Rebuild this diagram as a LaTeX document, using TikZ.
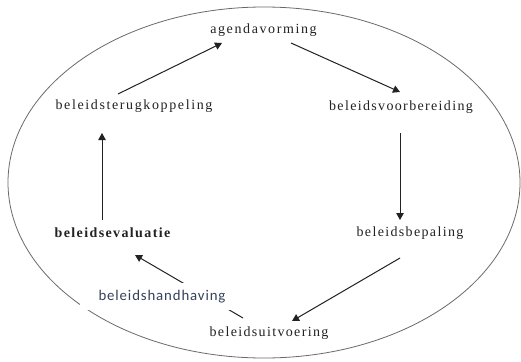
\documentclass[tikz,border=0pt]{standalone}
\usepackage{fontspec}
\setmainfont{Liberation Serif}
\newfontfamily\hvfont{Carlito}
\usetikzlibrary{arrows.meta}
\definecolor{txt}{HTML}{222222}
\definecolor{hvblue}{HTML}{34425A}
\definecolor{ellcol}{HTML}{6A6A6A}
\tikzset{
  lbl/.style={inner sep=0pt, text=txt, font=\fontsize{14}{16}\selectfont},
  arr/.style={draw=txt, line width=1pt, -{Triangle[length=7pt,width=7.5pt]}},
}
\newcommand\ls[2]{{\addfontfeature{LetterSpace=#1}#2}}
\begin{document}
\begin{tikzpicture}[x=1pt,y=-1pt]
\useasboundingbox (0,0) rectangle (521,361);
\fill[white] (0,0) rectangle (521,361);
\draw[ellcol, line width=0.8pt] (264,182.5) ellipse [x radius=256, y radius=175.5];

\node[lbl] (ag) at (263.5,30) {\ls{11.5}{agendavorming}};
\node[lbl] (bt) at (134,106.5) {\ls{11.6}{beleidsterugkoppeling}};
\node[lbl] (bv) at (401,107) {\ls{9.6}{beleidsvoorbereiding}};
\node[lbl] (bp) at (410,233) {\ls{9.6}{beleidsbepaling}};
\node[lbl, font=\fontsize{14}{16}\selectfont\bfseries] (be) at (112.5,233) {\ls{9.9}{beleidsevaluatie}};
\node[lbl] (bu) at (269,333) {\ls{9.6}{beleidsuitvoering}};

% arrows
\draw[arr] ([xshift=-16pt,yshift=12.5pt]bt.center) -- ([xshift=-41.5pt,yshift=-13pt]ag.center);
\draw[arr] ([xshift=27.5pt,yshift=-13pt]ag.center) -- ([xshift=-1pt,yshift=15pt]bv.center);
\draw[arr] ([xshift=-1pt,yshift=-26pt]bv.center) -- ([xshift=-10pt,yshift=13pt]bp.center);
\draw[arr] ([xshift=-10pt,yshift=-25pt]bp.center) -- ([xshift=23pt,yshift=12pt]bu.center);
\draw[arr] ([xshift=-26pt,yshift=15pt]bu.center) -- ([xshift=22.5pt,yshift=-22pt]be.center);
\draw[arr] ([xshift=-10.5pt,yshift=13pt]be.center) -- ([xshift=-32pt,yshift=-26.5pt]bt.center);

\node[fill=white, minimum width=153pt, minimum height=27pt, inner sep=0pt,
      text=hvblue, font=\hvfont\fontsize{14.8}{16}\selectfont] (bh) at (156.5,296.5)
      {\hspace*{11pt}\ls{6}{beleidshandhaving}};
\end{tikzpicture}
\end{document}
